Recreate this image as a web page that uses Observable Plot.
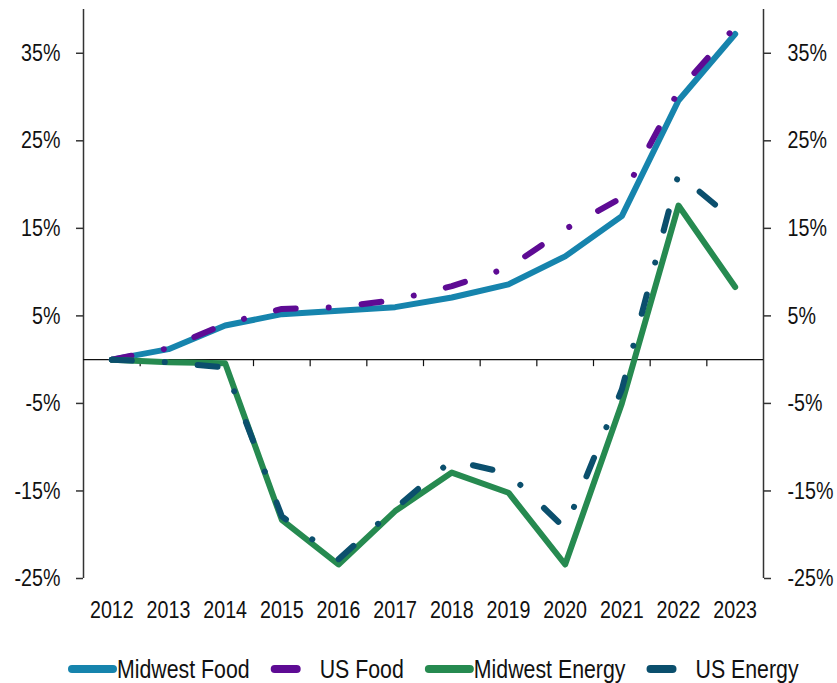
<!DOCTYPE html>
<html>
<head>
<meta charset="utf-8">
<script src="https://cdn.jsdelivr.net/npm/d3@7"></script>
<script src="https://cdn.jsdelivr.net/npm/@observablehq/plot@0.6"></script>
<style>
  html, body { margin: 0; padding: 0; background: #fff; }
  #chart svg, #legend svg { display: block; }
</style>
</head>
<body>
<div id="chart"></div>
<div id="legend"></div>
<script>
const years = [2012, 2013, 2014, 2015, 2016, 2017, 2018, 2019, 2020, 2021, 2022, 2023];
const midwestFood   = [0, 1.2, 3.9, 5.2, 5.6, 6.0, 7.1, 8.6, 11.8, 16.4, 29.6, 37.2];
const usFood        = [0, 1.3, 4.1, 5.8, 6.0, 6.8, 8.4, 10.5, 14.9, 18.5, 30.7, 38.0];
const midwestEnergy = [0, -0.3, -0.4, -18.3, -23.4, -17.3, -12.9, -15.2, -23.4, -5.0, 17.6, 8.3];
const usEnergy      = [0, -0.3, -0.9, -17.9, -22.8, -17.0, -11.5, -13.0, -19.3, -3.4, 21.2, 15.8];
const yTicks = [-25, -15, -5, 5, 15, 25, 35];
const yDomain = [-25, 40];

const seriesNames = ["Midwest Food", "US Food", "Midwest Energy", "US Energy"];
const seriesValues = [midwestFood, usFood, midwestEnergy, usEnergy];
const seriesColors = ["#1684ad", "#5e0b94", "#268a50", "#0b4f6d"];
const dashed = [false, true, false, true];
const dashPattern = "20,33,0.01,33";

const xDomain = [years[0] - 0.5, years[years.length - 1] + 0.5];
const boundaries = years.slice(1).map(y => y - 0.5);
const font = '"Liberation Sans", Arial, sans-serif';
const condense = 0.82;

function condenseTexts(root) {
  root.querySelectorAll("text").forEach(t => {
    const x = parseFloat(t.getAttribute("x") || "0");
    const tr = t.getAttribute("transform") || "";
    t.setAttribute("transform", `${tr} translate(${x},0) scale(${condense},1) translate(${-x},0)`);
  });
}

const lineMarks = seriesNames.map((name, k) =>
  Plot.line(years.map((yr, i) => ({year: yr, value: seriesValues[k][i]})), {
    x: "year", y: "value",
    stroke: seriesColors[k], strokeWidth: 6,
    strokeLinecap: "round", strokeLinejoin: "round",
    strokeDasharray: dashed[k] ? dashPattern : null
  })
);

const chart = Plot.plot({
  width: 837,
  height: 645,
  marginLeft: 83,
  marginRight: 74,
  marginTop: 9,
  marginBottom: 67,
  style: {fontFamily: font, fontSize: "24px", color: "#111", background: "#fff"},
  x: {domain: xDomain, axis: null},
  y: {domain: yDomain, axis: null},
  marks: [
    Plot.axisX(years, {anchor: "bottom", tickSize: 0, tickPadding: 22, tickFormat: d => String(d), fontSize: 24, label: null}),
    Plot.axisY(yTicks, {anchor: "left", tickSize: 7, tickPadding: 16, tickFormat: d => d + "%", stroke: "#333", strokeWidth: 1.5, fontSize: 24, label: null}),
    Plot.axisY(yTicks, {anchor: "right", tickSize: 7, tickPadding: 17, tickFormat: d => d + "%", stroke: "#333", strokeWidth: 1.5, fontSize: 24, label: null}),
    Plot.ruleX(xDomain, {y1: yDomain[0], y2: yDomain[1], stroke: "#333", strokeWidth: 1.5}),
    Plot.ruleY([0], {stroke: "#111", strokeWidth: 1.2}),
    Plot.ruleX(boundaries, {y1: 0, y2: 0, insetBottom: -7, stroke: "#111", strokeWidth: 1.2}),
    ...lineMarks
  ]
});
document.getElementById("chart").appendChild(chart);
condenseTexts(chart);

// Legend below the chart
const legendSvg = d3.select("#legend").append("svg")
  .attr("width", 837).attr("height", 38)
  .style("font-family", font).style("font-size", "26px");
let cursor = 68;
seriesNames.forEach((name, k) => {
  const g = legendSvg.append("g").attr("transform", `translate(${cursor},0)`);
  g.append("line")
    .attr("x1", 4).attr("x2", dashed[k] ? 26 : 45)
    .attr("y1", 24).attr("y2", 24)
    .attr("stroke", seriesColors[k]).attr("stroke-width", 8)
    .attr("stroke-linecap", "round");
  const t = g.append("text")
    .attr("x", 49).attr("y", 24).attr("dy", "0.35em")
    .attr("fill", "#111")
    .text(name);
  const w = t.node().getComputedTextLength() * condense;
  t.attr("transform", `translate(49,0) scale(${condense},1) translate(-49,0)`);
  cursor += 49 + w + 21;
});
</script>
</body>
</html>
